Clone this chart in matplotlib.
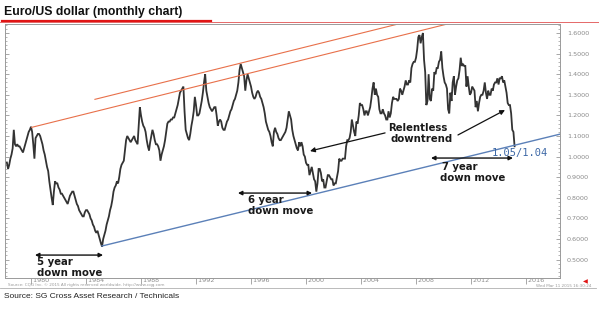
import numpy as np
import matplotlib
matplotlib.use("Agg")
import matplotlib.pyplot as plt
from matplotlib.lines import Line2D
from matplotlib.ticker import MultipleLocator

# ---------------- data (monthly EUR/USD, synthetic before 1999) ----------------
start_year = 1978
start_month = 4

close_1978_1989 = [
    0.97, 0.94, 0.96, 0.99, 1.01, 1.04, 1.13, 1.06, 1.05,                      # 1978 Apr-Dec
    1.06, 1.05, 1.05, 1.04, 1.03, 1.02, 1.04, 1.06, 1.08, 1.10, 1.12, 1.13,    # 1979
    1.145, 1.12, 1.06, 0.99, 1.09, 1.10, 1.11, 1.11, 1.10, 1.08, 1.06, 1.03,   # 1980
    1.01, 0.98, 0.95, 0.93, 0.88, 0.84, 0.80, 0.765, 0.83, 0.88, 0.87, 0.87,   # 1981
    0.85, 0.84, 0.82, 0.82, 0.81, 0.80, 0.79, 0.78, 0.77, 0.79, 0.81, 0.82,    # 1982
    0.83, 0.83, 0.81, 0.79, 0.77, 0.76, 0.74, 0.73, 0.72, 0.71, 0.71, 0.73,    # 1983
    0.74, 0.74, 0.73, 0.72, 0.70, 0.69, 0.67, 0.66, 0.64, 0.63, 0.64, 0.62,    # 1984
    0.60, 0.58, 0.563, 0.60, 0.62, 0.64, 0.67, 0.69, 0.71, 0.74, 0.76, 0.79,   # 1985
    0.83, 0.85, 0.86, 0.88, 0.87, 0.90, 0.94, 0.96, 0.97, 0.98, 1.03, 1.08,    # 1986
    1.10, 1.09, 1.08, 1.07, 1.08, 1.09, 1.10, 1.08, 1.07, 1.06, 1.15, 1.24,    # 1987
    1.20, 1.17, 1.15, 1.14, 1.12, 1.08, 1.05, 1.03, 1.07, 1.10, 1.13, 1.11,    # 1988
    1.08, 1.06, 1.06, 1.05, 1.03, 0.98, 1.01, 1.03, 1.05, 1.08, 1.12, 1.16,    # 1989
]
close_1990_1999 = [
    1.17, 1.17, 1.18, 1.18, 1.19, 1.19, 1.21, 1.23, 1.25, 1.28, 1.31, 1.32,    # 1990
    1.33, 1.34, 1.22, 1.13, 1.11, 1.09, 1.08, 1.11, 1.15, 1.18, 1.22, 1.29,    # 1991
    1.25, 1.20, 1.20, 1.21, 1.24, 1.27, 1.31, 1.36, 1.40, 1.32, 1.29, 1.26,    # 1992
    1.24, 1.23, 1.22, 1.23, 1.24, 1.24, 1.20, 1.15, 1.17, 1.18, 1.17, 1.14,    # 1993
    1.13, 1.13, 1.15, 1.17, 1.18, 1.20, 1.22, 1.23, 1.25, 1.27, 1.28, 1.30,    # 1994
    1.32, 1.36, 1.42, 1.45, 1.43, 1.41, 1.39, 1.32, 1.37, 1.40, 1.38, 1.36,    # 1995
    1.34, 1.31, 1.29, 1.28, 1.29, 1.31, 1.32, 1.31, 1.29, 1.28, 1.26, 1.24,    # 1996
    1.21, 1.17, 1.15, 1.13, 1.12, 1.10, 1.07, 1.05, 1.12, 1.14, 1.12, 1.11,    # 1997
    1.09, 1.08, 1.08, 1.09, 1.10, 1.11, 1.12, 1.14, 1.18, 1.22, 1.20, 1.18,    # 1998
    1.13, 1.10, 1.08, 1.06, 1.04, 1.03, 1.07, 1.05, 1.07, 1.05, 1.01, 1.00,    # 1999
]
close_2000_2009 = [
    0.97, 0.96, 0.96, 0.91, 0.93, 0.95, 0.92, 0.89, 0.88, 0.83, 0.87, 0.94,    # 2000
    0.94, 0.92, 0.88, 0.89, 0.85, 0.85, 0.88, 0.91, 0.91, 0.90, 0.89, 0.89,    # 2001
    0.86, 0.87, 0.87, 0.90, 0.93, 0.99, 0.98, 0.98, 0.99, 0.99, 0.99, 1.05,    # 2002
    1.08, 1.08, 1.09, 1.12, 1.18, 1.15, 1.12, 1.10, 1.17, 1.16, 1.20, 1.26,    # 2003
    1.25, 1.25, 1.23, 1.20, 1.22, 1.22, 1.20, 1.22, 1.24, 1.28, 1.33, 1.36,    # 2004
    1.30, 1.33, 1.30, 1.29, 1.23, 1.21, 1.21, 1.23, 1.21, 1.20, 1.18, 1.18,    # 2005
    1.22, 1.19, 1.21, 1.26, 1.29, 1.28, 1.28, 1.28, 1.27, 1.28, 1.33, 1.32,    # 2006
    1.30, 1.32, 1.34, 1.37, 1.35, 1.35, 1.37, 1.36, 1.43, 1.45, 1.46, 1.46,    # 2007
    1.48, 1.52, 1.58, 1.59, 1.55, 1.58, 1.60, 1.47, 1.41, 1.25, 1.27, 1.40,    # 2008
    1.28, 1.27, 1.33, 1.32, 1.41, 1.40, 1.43, 1.43, 1.46, 1.47, 1.51, 1.43,    # 2009
]
close_2010_2015 = [
    1.39, 1.36, 1.35, 1.33, 1.23, 1.21, 1.31, 1.27, 1.36, 1.39, 1.30, 1.34,    # 2010
    1.37, 1.38, 1.42, 1.48, 1.44, 1.45, 1.44, 1.44, 1.34, 1.39, 1.34, 1.30,    # 2011
    1.31, 1.34, 1.33, 1.32, 1.24, 1.27, 1.22, 1.26, 1.29, 1.30, 1.30, 1.32,    # 2012
    1.36, 1.31, 1.28, 1.32, 1.30, 1.30, 1.33, 1.32, 1.35, 1.36, 1.36, 1.38,    # 2013
    1.35, 1.38, 1.38, 1.39, 1.36, 1.37, 1.34, 1.31, 1.26, 1.25, 1.25, 1.21,    # 2014
    1.13, 1.12, 1.05,                                                          # 2015
]

# trend lines (year, value) anchor points
upper_red_years = [1984.65, 2007.2]
upper_red_vals = [1.278, 1.652]
lower_red_years = [1980.05, 2010.84]
lower_red_vals = [1.142, 1.653]
blue_years = [1985.16, 2018.47]
blue_vals = [0.566, 1.109]

y_ticks = [0.5, 0.6, 0.7, 0.8, 0.9, 1.0, 1.1, 1.2, 1.3, 1.4, 1.5, 1.6]
x_ticks = [1980, 1984, 1988, 1992, 1996, 2000, 2004, 2008, 2012, 2016]

title = "Euro/US dollar (monthly chart)"
source = "Source: SG Cross Asset Research / Technicals"

# ---------------- figure ----------------
closes = np.array(close_1978_1989 + close_1990_1999 + close_2000_2009 + close_2010_2015)
t = start_year + (start_month - 1) / 12 + np.arange(len(closes)) / 12

W, H = 599, 309
fig = plt.figure(figsize=(W / 100, H / 100), dpi=100)
fig.patch.set_facecolor("white")


def fx(px):
    return px / W


def fy(py):
    return 1 - py / H


ax = fig.add_axes([fx(5), fy(278), fx(560) - fx(5), fy(24) - fy(278)])
ax.set_xlim(1978.11, 2018.47)
ax.set_ylim(0.4107, 1.6437)

ax.plot(t, closes, color="#333333", lw=1.3, solid_joinstyle="miter")

ax.plot(upper_red_years, upper_red_vals, color="#e8704a", lw=0.8)
ax.plot(lower_red_years, lower_red_vals, color="#e8704a", lw=0.8)
ax.plot(blue_years, blue_vals, color="#5b80b8", lw=1.0)

# axes styling
for s in ax.spines.values():
    s.set_color("#9a9a9a")
    s.set_linewidth(0.7)

ax.set_yticks(y_ticks)
ax.set_yticklabels([f"{v:.4f}" for v in y_ticks], family="DejaVu Sans")
ax.yaxis.set_minor_locator(MultipleLocator(0.02))
ax.tick_params(axis="y", which="both", left=True, right=True, labelleft=False,
               labelright=True, direction="in", color="#999999")
ax.tick_params(axis="y", which="major", length=3, width=0.6, labelsize=4.6,
               labelcolor="#8a8a8a", pad=5)
ax.tick_params(axis="y", which="minor", length=1.5, width=0.5)

ax.set_xticks(x_ticks)
ax.set_xticklabels([" " + str(v) for v in x_ticks], family="DejaVu Sans")
ax.tick_params(axis="x", which="major", direction="out", length=4, width=0.6,
               color="#999999", labelsize=4.6, labelcolor="#8a8a8a", pad=-4.2)
for lbl in ax.get_xticklabels():
    lbl.set_horizontalalignment("left")

# annotations
txt_kw = dict(fontsize=7.3, fontweight="bold", family="DejaVu Sans", color="#1a1a1a",
              va="center", ha="left")
arrow_kw = dict(arrowstyle="<|-|>", color="#111111", lw=1.0, mutation_scale=6,
                shrinkA=0, shrinkB=0)
one_way = dict(arrowstyle="-|>", color="#111111", lw=0.9, mutation_scale=7,
               shrinkA=0, shrinkB=0)

ax.annotate("", xy=(1985.24, 0.522), xytext=(1980.29, 0.522), arrowprops=arrow_kw)
ax.text(1980.44, 0.488, "5 year", **txt_kw)
ax.text(1980.44, 0.435, "down move", **txt_kw)

ax.annotate("", xy=(2000.44, 0.823), xytext=(1995.05, 0.823), arrowprops=arrow_kw)
ax.text(1995.78, 0.789, "6 year", **txt_kw)
ax.text(1995.78, 0.736, "down move", **txt_kw)

ax.text(2005.96, 1.139, "Relentless", **txt_kw)
ax.text(2006.11, 1.085, "downtrend", **txt_kw)
ax.annotate("", xy=(2000.29, 1.027), xytext=(2005.75, 1.115), arrowprops=one_way)
ax.annotate("", xy=(2014.47, 1.226), xytext=(2011.05, 1.105), arrowprops=one_way)

ax.annotate("", xy=(2015.05, 0.993), xytext=(2009.09, 0.993), arrowprops=arrow_kw)
ax.text(2009.89, 0.950, "7 year", **txt_kw)
ax.text(2009.75, 0.896, "down move", **txt_kw)

ax.text(2013.53, 1.016, "1.05/1.04", fontsize=7.5, family="DejaVu Sans Mono",
        color="#3d68a6", va="center", ha="left")

# header
fig.text(fx(4), fy(12), title, fontsize=8.8, fontweight="bold",
         family="Liberation Sans", color="#111111", va="center", ha="left")
fig.add_artist(Line2D([fx(2), fx(211)], [fy(20.5), fy(20.5)], color="#e01515",
                      lw=1.6, transform=fig.transFigure))
fig.add_artist(Line2D([fx(0), fx(599)], [fy(22.3), fy(22.3)], color="#e05050",
                      lw=0.6, transform=fig.transFigure))

# footer
fig.add_artist(Line2D([fx(0), fx(596)], [fy(288), fy(288)], color="#b0b0b0",
                      lw=0.6, transform=fig.transFigure))
fig.text(fx(8), fy(285), "Source: CQG Inc. \u00a9 2015 All rights reserved worldwide. http://www.cqg.com",
         fontsize=3.0, color="#9a9a9a", va="center", ha="left", family="DejaVu Sans")
fig.text(fx(591), fy(286), "Wed Mar 11 2015 16:30:24", fontsize=3.0, color="#9a9a9a",
         va="center", ha="right", family="DejaVu Sans")
fig.text(fx(585), fy(281.5), "\u25c0", fontsize=4.5, color="#e01515", va="center",
         ha="center", family="DejaVu Sans")
fig.text(fx(4), fy(297), source, fontsize=6.0, color="#222222", va="center", ha="left",
         family="Liberation Sans")

fig.savefig("out.png", dpi=100, facecolor="white")
